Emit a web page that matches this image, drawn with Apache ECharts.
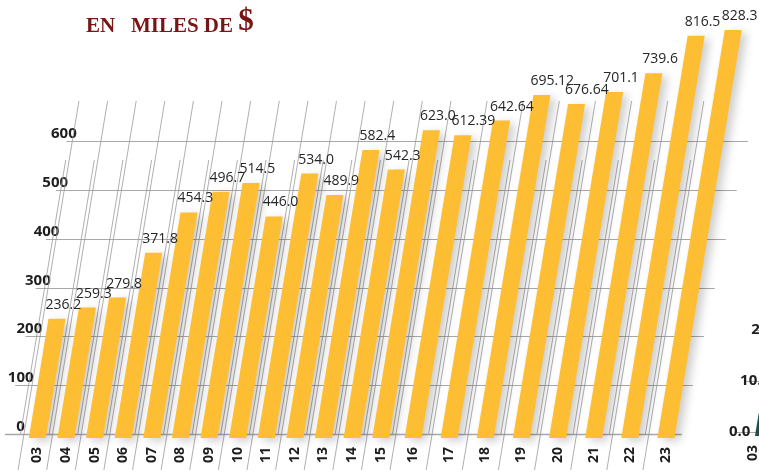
<!DOCTYPE html>
<html>
<head>
<meta charset="utf-8">
<script src="https://cdn.jsdelivr.net/npm/echarts@6/dist/echarts.min.js"></script>
<style>
  html, body { margin: 0; padding: 0; background: #fff; }
  #chart { width: 759px; height: 473px; }
</style>
</head>
<body>
<div id="chart"></div>
<script>
// años 2003 - 2023, en miles de $
var years = ['03', '04', '05', '06', '07', '08', '09', '10', '11', '12', '13',
             '14', '15', '16', '17', '18', '19', '20', '21', '22', '23'];
var amounts = [236.2, 259.3, 279.8, 371.8, 454.3, 496.7, 514.5, 446.0, 534.0, 489.9, 582.4,
               542.3, 623.0, 612.39, 642.64, 695.12, 676.64, 701.1, 739.6, 816.5, 828.3];
var amountLabels = ['236.2', '259.3', '279.8', '371.8', '454.3', '496.7', '514.5', '446.0', '534.0', '489.9', '582.4',
                    '542.3', '623.0', '612.39', '642.64', '695.12', '676.64', '701.1', '739.6', '816.5', '828.3'];
var yTicks = [0, 100, 200, 300, 400, 500, 600];

// the next chart on the page, cut by the right edge
var sideYears = ['03'];
var sideValues = [3.7];
var sideTicks = [0, 10, 20];
var sideTickLabels = ['0.0', '10.0', '20.0'];

// the bars get wider apart from '16' on
var splitAt = 13;

var SLANT = 0.165;   // bars and guides lean right
var BAR_W = 17;
var FONT = 'Open Sans';

var chart = echarts.init(document.getElementById('chart'), null, { renderer: 'canvas' });

function barRenderer(labels, color, withLabel, shift) {
    return function (params, api) {
        var base = api.coord([api.value(0), 0]);
        var top = api.coord([api.value(0), api.value(1)]);
        var y0 = base[1] + 4;          // bars sink a little under the base line
        var x0 = base[0] - BAR_W / 2 + shift;
        var dx = SLANT * (y0 - top[1]);
        var children = [{
            type: 'polygon',
            shape: { points: [[x0, y0], [x0 + BAR_W, y0], [x0 + BAR_W + dx, top[1]], [x0 + dx, top[1]]] },
            style: {
                fill: color,
                shadowBlur: 10,
                shadowOffsetX: 5,
                shadowOffsetY: 3,
                shadowColor: 'rgba(0,0,0,0.2)'
            }
        }];
        if (withLabel) {
            children.push({
                type: 'text',
                x: x0 + dx - 3,
                y: top[1] - 14,
                z2: 10,
                style: {
                    text: labels[params.dataIndex],
                    fill: '#262626',
                    fontSize: 14,
                    fontFamily: FONT,
                    align: 'left',
                    verticalAlign: 'middle'
                }
            });
        }
        return { type: 'group', children: children };
    };
}

function renderGuide(params, api) {
    var base = api.coord([api.value(0), 0]);
    var band = api.size([1, 0])[0];
    var xb = base[0] - band / 2 + 1;
    var y0 = base[1];
    function xAt(y, off) { return xb + off + SLANT * (y0 - y); }
    var st = { stroke: '#9b9b9b', lineWidth: 0.8 };
    return {
        type: 'group',
        children: [
            { type: 'line', shape: { x1: xAt(470, 0), y1: 470, x2: xAt(101, 0), y2: 101 }, style: st },
            { type: 'line', shape: { x1: xAt(y0, -3.5), y1: y0, x2: xAt(160, -3.5), y2: 160 }, style: st }
        ]
    };
}

function renderGridLine(params, api) {
    var v = api.value(1);
    var y = Math.round(api.coord([0, v])[1]) + 0.5;
    var h = api.coord([0, 0])[1] - y;
    return {
        type: 'group',
        children: [
            {
                type: 'line',
                shape: { x1: 5 + 0.21 * h, y1: y, x2: 682 + 0.225 * h, y2: y },
                style: { stroke: '#a8a8a8', lineWidth: v === 0 ? 1.6 : 1 }
            },
            {
                type: 'text',
                x: 25 + 0.177 * h,
                y: y - 8,
                style: {
                    text: String(yTicks[params.dataIndex]),
                    fill: '#1e1e1e',
                    fontSize: 15,
                    fontWeight: 'bold',
                    fontFamily: FONT,
                    align: 'right',
                    verticalAlign: 'middle'
                }
            }
        ]
    };
}

function renderSideGridLine(params, api) {
    var y = Math.round(api.coord([0, api.value(1)])[1]) + 0.5;
    var h = api.coord([0, 0])[1] - y;
    return {
        type: 'group',
        children: [
            {
                type: 'line',
                shape: { x1: 735 + 0.2 * h, y1: y, x2: 800, y2: y },
                style: { stroke: '#a8a8a8', lineWidth: 1 }
            },
            {
                type: 'text',
                x: 729 + 0.22 * h,
                y: y - 1,
                style: {
                    text: sideTickLabels[params.dataIndex],
                    fill: '#1e1e1e',
                    fontSize: 15,
                    fontWeight: 'bold',
                    fontFamily: FONT,
                    align: 'left',
                    verticalAlign: 'middle'
                }
            }
        ]
    };
}

function pairs(vals) {
    return vals.map(function (v, i) { return [i, v]; });
}

function xAxisFor(gridIndex, cats) {
    return {
        type: 'category',
        gridIndex: gridIndex,
        data: cats,
        axisLine: { show: false },
        axisTick: { show: false },
        splitLine: { show: false },
        axisLabel: {
            interval: 0,
            rotate: 90,
            margin: 13,
            fontSize: 14,
            fontWeight: 'bold',
            fontFamily: FONT,
            color: '#1e1e1e'
        }
    };
}

function yAxisFor(gridIndex, max) {
    return {
        type: 'value',
        gridIndex: gridIndex,
        min: 0,
        max: max,
        show: false
    };
}

var leftYears = years.slice(0, splitAt), rightYears = years.slice(splitAt);
var leftAmounts = amounts.slice(0, splitAt), rightAmounts = amounts.slice(splitAt);
var leftLabels = amountLabels.slice(0, splitAt), rightLabels = amountLabels.slice(splitAt);

var option = {
    animation: false,
    backgroundColor: '#fff',
    title: {
        text: '{a|EN   MILES DE }{b|$}',
        left: 86,
        top: 5,
        padding: 0,
        textStyle: {
            rich: {
                a: { fontFamily: 'Liberation Serif', fontWeight: 'bold', fontSize: 21, color: '#7b1414',
                     lineHeight: 32, verticalAlign: 'bottom' },
                b: { fontFamily: 'Liberation Serif', fontWeight: 'bold', fontSize: 31, color: '#7b1414',
                     lineHeight: 32, verticalAlign: 'bottom' }
            }
        }
    },
    grid: [
        { left: 23, width: 372, top: 0, bottom: 39, outerBoundsMode: 'none' },
        { left: 395, width: 289, top: 0, bottom: 39, outerBoundsMode: 'none' },
        { left: 747, width: 12, top: 2, bottom: 41, outerBoundsMode: 'none' }
    ],
    xAxis: [
        xAxisFor(0, leftYears),
        xAxisFor(1, rightYears),
        xAxisFor(2, sideYears)
    ],
    yAxis: [
        yAxisFor(0, 890),
        yAxisFor(1, 890),
        yAxisFor(2, 84)
    ],
    series: [
        {
            type: 'custom', name: 'grid', xAxisIndex: 0, yAxisIndex: 0, z: 1,
            renderItem: renderGridLine,
            data: yTicks.map(function (v) { return [0, v]; })
        },
        {
            type: 'custom', name: 'guides-a', xAxisIndex: 0, yAxisIndex: 0, z: 2,
            renderItem: renderGuide, data: pairs(leftAmounts)
        },
        {
            type: 'custom', name: 'guides-b', xAxisIndex: 1, yAxisIndex: 1, z: 2,
            renderItem: renderGuide, data: pairs(rightAmounts)
        },
        {
            type: 'custom', name: 'bars-a', xAxisIndex: 0, yAxisIndex: 0, z: 3,
            renderItem: barRenderer(leftLabels, '#fdbe33', true, 0), data: pairs(leftAmounts)
        },
        {
            type: 'custom', name: 'bars-b', xAxisIndex: 1, yAxisIndex: 1, z: 3,
            renderItem: barRenderer(rightLabels, '#fdbe33', true, 0), data: pairs(rightAmounts)
        },
        {
            type: 'custom', name: 'side-grid', xAxisIndex: 2, yAxisIndex: 2, z: 1,
            renderItem: renderSideGridLine,
            data: sideTicks.map(function (v) { return [0, v]; })
        },
        {
            type: 'custom', name: 'side-bars', xAxisIndex: 2, yAxisIndex: 2, z: 3,
            renderItem: barRenderer([], '#1f4d4b', false, 10.5), data: pairs(sideValues)
        }
    ]
};

chart.setOption(option);
</script>
</body>
</html>
